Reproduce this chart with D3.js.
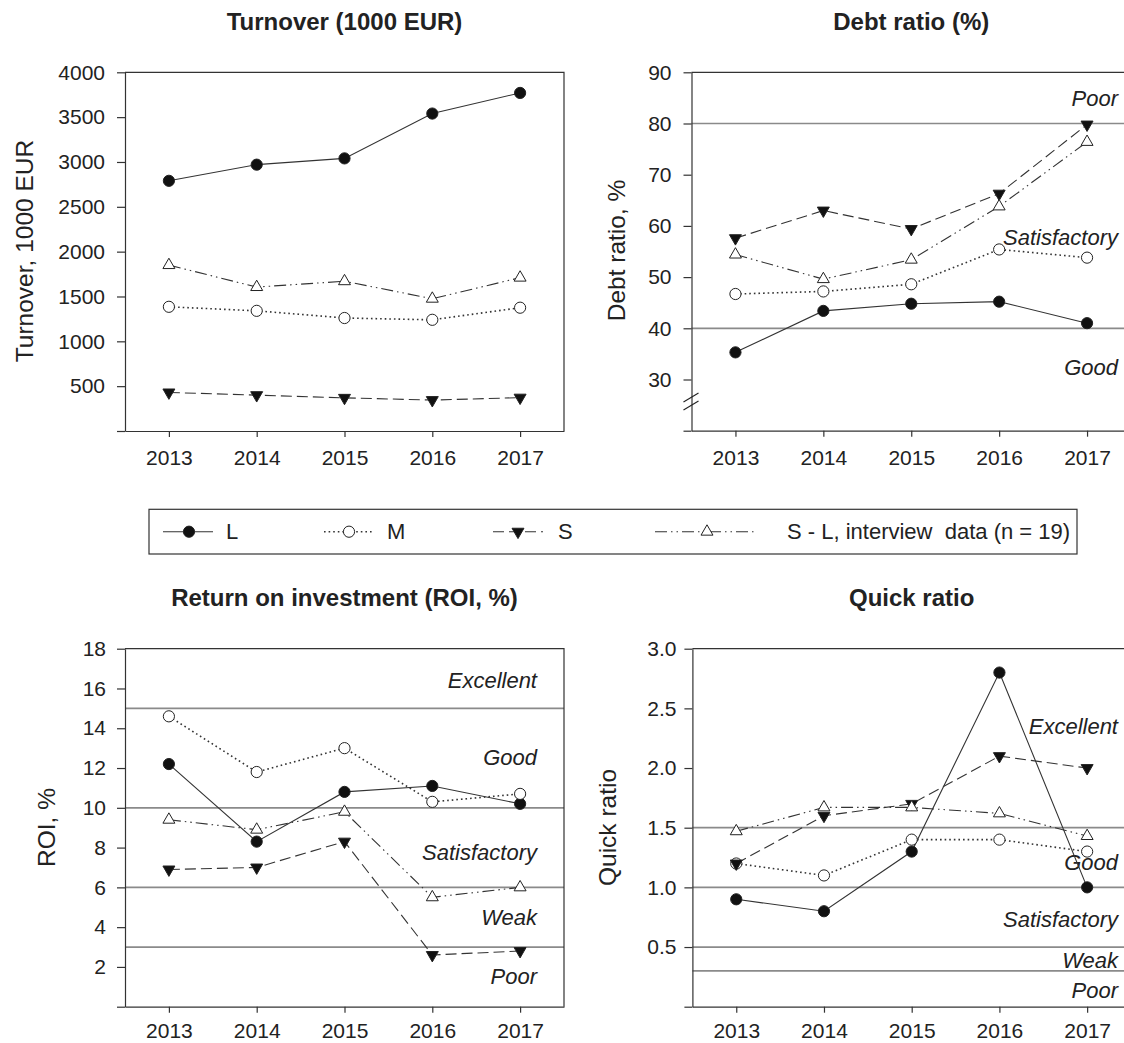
<!DOCTYPE html>
<html>
<head>
<meta charset="utf-8">
<script src="https://cdn.jsdelivr.net/npm/d3@7"></script>
<style>
  html, body { margin: 0; padding: 0; background: #fff; }
  svg text { font-family: "Liberation Sans", Arial, sans-serif; fill: #222; white-space: pre; }
</style>
</head>
<body>
<svg id="chart" width="1124" height="1043"></svg>
<script>
// ---------------- DATA ----------------
const years = [2013, 2014, 2015, 2016, 2017];
const seriesKeys = ["L", "M", "S", "SL"];
const seriesLabels = ["L", "M", "S", "S - L, interview  data (n = 19)"];

const turnoverL  = [2790, 2970, 3040, 3540, 3770];
const turnoverM  = [1385, 1340, 1260, 1240, 1375];
const turnoverS  = [430, 400, 370, 345, 372];
const turnoverSL = [1850, 1605, 1670, 1475, 1710];
const turnoverTicks = [500, 1000, 1500, 2000, 2500, 3000, 3500, 4000];

const debtL  = [35.3, 43.4, 44.8, 45.2, 41.0];
const debtM  = [46.7, 47.2, 48.6, 55.4, 53.8];
const debtS  = [57.6, 63.0, 59.4, 66.3, 79.8];
const debtSL = [54.4, 49.6, 53.4, 63.8, 76.4];
const debtTicks = [30, 40, 50, 60, 70, 80, 90];
const debtLimits = [80, 40];
const debtClasses = ["Poor", "Satisfactory", "Good"];

const roiL  = [12.2, 8.3, 10.8, 11.1, 10.2];
const roiM  = [14.6, 11.8, 13.0, 10.3, 10.7];
const roiS  = [6.9, 7.0, 8.3, 2.6, 2.8];
const roiSL = [9.4, 8.9, 9.8, 5.5, 6.0];
const roiTicks = [2, 4, 6, 8, 10, 12, 14, 16, 18];
const roiLimits = [15, 10, 6, 3];
const roiClasses = ["Excellent", "Good", "Satisfactory", "Weak", "Poor"];

const qrL  = [0.9, 0.8, 1.3, 2.8, 1.0];
const qrM  = [1.2, 1.1, 1.4, 1.4, 1.3];
const qrS  = [1.2, 1.6, 1.7, 2.1, 2.0];
const qrSL = [1.47, 1.67, 1.67, 1.62, 1.43];
const qrTicks = [0.5, 1.0, 1.5, 2.0, 2.5, 3.0];
const qrLimits = [1.5, 1.0, 0.5, 0.3];
const qrClasses = ["Excellent", "Good", "Satisfactory", "Weak", "Poor"];

// ---------------- LAYOUT / STYLE ----------------
const svg = d3.select("#chart");
svg.append("rect").attr("width", 1124).attr("height", 1043).attr("fill", "#fff");

const styles = {
  L:  { dash: null, width: 1.1, marker: "circle", fill: "#111" },
  M:  { dash: "1.6,3", width: 1.6, marker: "circle", fill: "#fff" },
  S:  { dash: "11,5", width: 1.1, marker: "down", fill: "#111" },
  SL: { dash: "12,4,1.5,4,1.5,4", width: 1.1, marker: "up", fill: "#fff" }
};

function drawMarker(g, type, cx, cy, fill) {
  if (type === "circle") {
    g.append("circle").attr("cx", cx).attr("cy", cy).attr("r", 5.6)
      .attr("fill", fill).attr("stroke", "#222").attr("stroke-width", 1);
  } else {
    const sym = d3.symbol().type(d3.symbolTriangle).size(62);
    g.append("path").attr("d", sym())
      .attr("transform", `translate(${cx},${cy})` + (type === "down" ? " rotate(180)" : ""))
      .attr("fill", fill).attr("stroke", "#222").attr("stroke-width", 1);
  }
}

const panels = [
  { title: "Turnover (1000 EUR)", ylabel: "Turnover, 1000 EUR",
    left: 125, right: 564, top: 72.3, bottom: 431, domain: [0, 4000],
    ticks: turnoverTicks, fmt: d3.format("d"), pad: 12, xpad: 13,
    series: { L: turnoverL, M: turnoverM, S: turnoverS, SL: turnoverSL },
    limits: [], classes: [], classPos: [], labelRight: 537,
    titleY: 30, ylabX: 33, ylabY: 251 },
  { title: "Debt ratio (%)", ylabel: "Debt ratio, %",
    left: 691.5, right: 1131, top: 72.3, bottom: 430.7, domain: [20, 90],
    ticks: debtTicks, fmt: d3.format("d"), pad: 12, xpad: 13, brk: true,
    series: { L: debtL, M: debtM, S: debtS, SL: debtSL },
    limits: debtLimits, classes: debtClasses, classPos: [85, 57.7, 32.4], labelRight: 1118,
    titleY: 30, ylabX: 625, ylabY: 250.5 },
  { title: "Return on investment (ROI, %)", ylabel: "ROI, %",
    left: 125, right: 564, top: 648.7, bottom: 1006.7, domain: [0, 18],
    ticks: roiTicks, fmt: d3.format("d"), pad: 11, xpad: 10,
    series: { L: roiL, M: roiM, S: roiS, SL: roiSL },
    limits: roiLimits, classes: roiClasses, classPos: [16.4, 12.55, 7.74, 4.5, 1.54], labelRight: 537,
    titleY: 605.7, ylabX: 55, ylabY: 827.5 },
  { title: "Quick ratio", ylabel: "Quick ratio",
    left: 692.4, right: 1131, top: 648.7, bottom: 1006.7, domain: [0, 3],
    ticks: qrTicks, fmt: d3.format(".1f"), pad: 8, xpad: 10,
    series: { L: qrL, M: qrM, S: qrS, SL: qrSL },
    limits: qrLimits, classes: qrClasses, classPos: [2.35, 1.21, 0.73, 0.386, 0.134], labelRight: 1118,
    titleY: 605.7, ylabX: 616, ylabY: 827.5 }
];

panels.forEach(p => {
  const g = svg.append("g");
  const x = d3.scaleLinear().domain([2012.5, 2017.5]).range([p.left, p.right]);
  const y = d3.scaleLinear().domain(p.domain).range([p.bottom, p.top]);

  // title
  g.append("text").attr("x", (p.left + p.right) / 2).attr("y", p.titleY)
    .attr("text-anchor", "middle").attr("font-weight", "bold").attr("font-size", 24)
    .text(p.title);

  // y label
  g.append("text").attr("transform", `translate(${p.ylabX},${p.ylabY}) rotate(-90)`)
    .attr("text-anchor", "middle").attr("font-size", 24.5).text(p.ylabel);

  // threshold lines
  p.limits.forEach(v => {
    g.append("line").attr("x1", p.left).attr("x2", p.right)
      .attr("y1", y(v)).attr("y2", y(v))
      .attr("stroke", "#8a8a8a").attr("stroke-width", 1.7);
  });
  p.classes.forEach((c, i) => {
    g.append("text").attr("x", p.labelRight)
      .attr("y", y(p.classPos[i])).attr("dy", "0.35em")
      .attr("text-anchor", "end").attr("font-style", "italic").attr("font-size", 22)
      .text(c);
  });

  // frame (top & right)
  g.append("path")
    .attr("d", `M${p.left},${p.top}H${p.right}V${p.bottom}`)
    .attr("fill", "none").attr("stroke", "#333").attr("stroke-width", 1.2);

  // y axis
  const yAxis = d3.axisLeft(y)
    .tickValues([p.domain[0]].concat(p.ticks))
    .tickSize(8).tickSizeOuter(0).tickPadding(p.pad)
    .tickFormat(d => p.ticks.includes(d) ? p.fmt(d) : "");
  const ya = g.append("g").attr("transform", `translate(${p.left},0)`).call(yAxis);
  ya.selectAll("text").attr("font-size", 21).attr("fill", "#222")
    .attr("font-family", '"Liberation Sans", Arial, sans-serif');
  ya.selectAll("line").attr("stroke", "#333").attr("stroke-width", 1.2);
  ya.select(".domain").attr("stroke", "#333").attr("stroke-width", 1.2);

  // x axis
  const xAxis = d3.axisBottom(x).tickValues(years).tickSize(6).tickSizeOuter(0)
    .tickPadding(p.xpad).tickFormat(d3.format("d"));
  const xa = g.append("g").attr("transform", `translate(0,${p.bottom})`).call(xAxis);
  xa.selectAll("text").attr("font-size", 21).attr("fill", "#222")
    .attr("font-family", '"Liberation Sans", Arial, sans-serif');
  xa.selectAll("line").attr("stroke", "#333").attr("stroke-width", 1.2);
  xa.select(".domain").attr("stroke", "#333").attr("stroke-width", 1.2);

  // axis break
  if (p.brk) {
    const yb = y(25.8);
    g.append("line").attr("x1", p.left - 8).attr("x2", p.left + 7)
      .attr("y1", yb + 1).attr("y2", yb - 8).attr("stroke", "#222").attr("stroke-width", 1.1);
    g.append("line").attr("x1", p.left - 8).attr("x2", p.left + 7)
      .attr("y1", yb + 9).attr("y2", yb).attr("stroke", "#222").attr("stroke-width", 1.1);
  }

  // series lines
  const line = d3.line().x((d, i) => x(years[i])).y(d => y(d));
  seriesKeys.forEach(k => {
    const st = styles[k];
    g.append("path").attr("d", line(p.series[k]))
      .attr("fill", "none").attr("stroke", "#333").attr("stroke-width", st.width)
      .attr("stroke-dasharray", st.dash);
  });
  seriesKeys.forEach(k => {
    const st = styles[k];
    p.series[k].forEach((v, i) => drawMarker(g, st.marker, x(years[i]), y(v), st.fill));
  });
});

// ---------------- LEGEND ----------------
const lg = svg.append("g");
lg.append("rect").attr("x", 149).attr("y", 509.3).attr("width", 928).attr("height", 44.7)
  .attr("fill", "none").attr("stroke", "#333").attr("stroke-width", 1.2);
const legendPos = [
  { x1: 163, x2: 213, m: 189, t: 226 },
  { x1: 324, x2: 373, m: 349, t: 387 },
  { x1: 493, x2: 543, m: 518, t: 558 },
  { x1: 655, x2: 755, m: 707, t: 787 }
];
const ly = 531.7;
seriesKeys.forEach((k, i) => {
  const st = styles[k], lp = legendPos[i];
  lg.append("line").attr("x1", lp.x1).attr("x2", lp.x2).attr("y1", ly).attr("y2", ly)
    .attr("stroke", "#333").attr("stroke-width", st.width).attr("stroke-dasharray", st.dash);
  drawMarker(lg, st.marker, lp.m, ly, st.fill);
  lg.append("text").attr("x", lp.t).attr("y", ly).attr("dy", "0.35em")
    .attr("font-size", 22).attr("xml:space", "preserve").text(seriesLabels[i]);
});
</script>
</body>
</html>
